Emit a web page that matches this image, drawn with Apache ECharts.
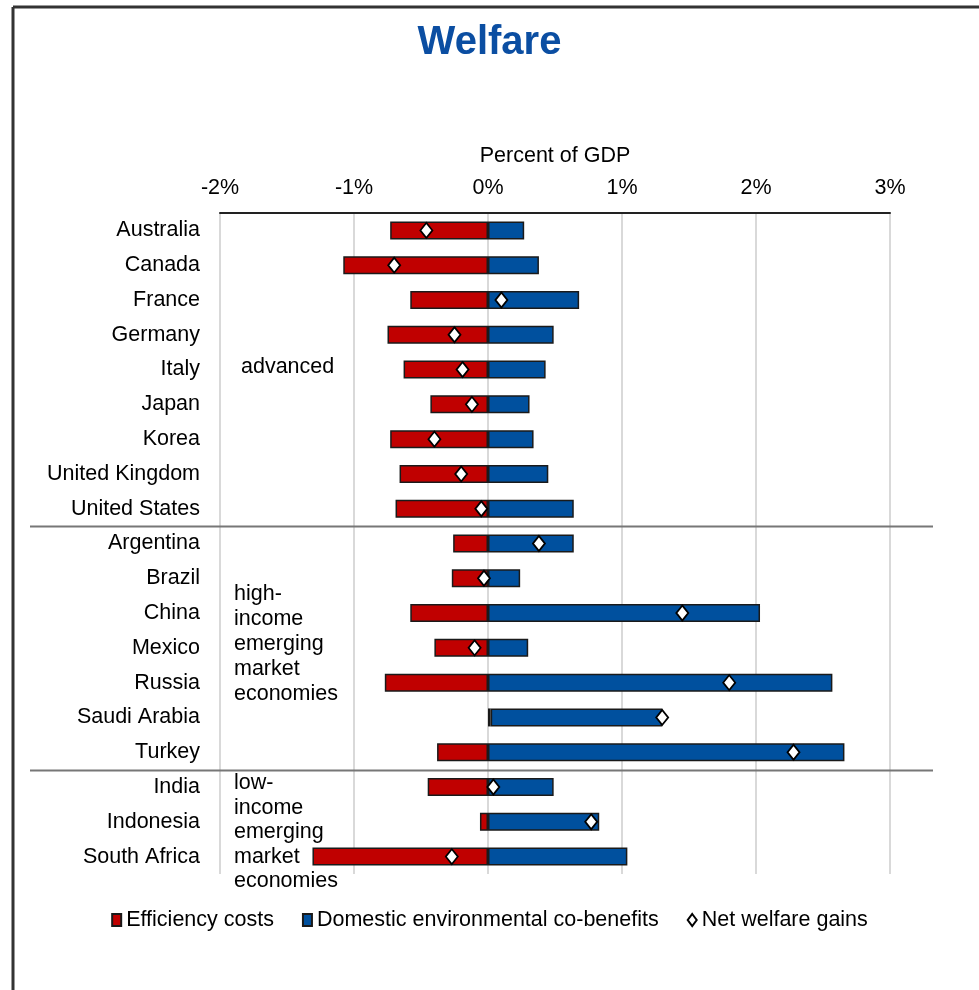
<!DOCTYPE html>
<html>
<head>
<meta charset="utf-8">
<title>Welfare</title>
<script src="https://cdn.jsdelivr.net/npm/echarts@6/dist/echarts.min.js"></script>
<style>
  html, body { margin: 0; padding: 0; background: #ffffff; }
  #chart { width: 979px; height: 990px; }
</style>
</head>
<body>
<div id="chart"></div>
<script>
// Countries, top to bottom
const countries = [
  'Australia', 'Canada', 'France', 'Germany', 'Italy', 'Japan', 'Korea',
  'United Kingdom', 'United States',
  'Argentina', 'Brazil', 'China', 'Mexico', 'Russia', 'Saudi Arabia', 'Turkey',
  'India', 'Indonesia', 'South Africa'
];

// Percent of GDP
const efficiencyCosts = [
  -0.73, -1.08, -0.58, -0.75, -0.63, -0.43, -0.73, -0.66, -0.69,
  -0.26, -0.27, -0.58, -0.40, -0.77, 0.02, -0.38,
  -0.45, -0.06, -1.31
];
const coBenefits = [
  0.27, 0.38, 0.68, 0.49, 0.43, 0.31, 0.34, 0.45, 0.64,
  0.64, 0.24, 2.03, 0.30, 2.57, 1.28, 2.66,
  0.49, 0.83, 1.04
];
const netGains = [
  -0.46, -0.70, 0.10, -0.25, -0.19, -0.12, -0.40, -0.20, -0.05,
  0.38, -0.03, 1.45, -0.10, 1.80, 1.30, 2.28,
  0.04, 0.77, -0.27
];

const xTicks = { min: -2, max: 3, step: 1 };

// Country groups: label lines, first and last member
const groups = [
  { lines: ['advanced'], first: 'Australia', last: 'United States' },
  { lines: ['high-', 'income', 'emerging', 'market', 'economies'], first: 'Argentina', last: 'Turkey' },
  { lines: ['low-', 'income', 'emerging', 'market', 'economies'], first: 'India', last: 'South Africa' }
];

const FONT = 'Liberation Sans, Arial, sans-serif';
const FS = 21.5;
const RED = '#C00000';
const BLUE = '#00509E';
const EDGE = '#1a1a1a';

const chart = echarts.init(document.getElementById('chart'), null, { renderer: 'canvas' });

chart.setOption({
  backgroundColor: '#ffffff',
  animation: false,
  title: {
    text: 'Welfare',
    left: 'center',
    top: 18,
    textStyle: { fontFamily: FONT, fontSize: 40, fontWeight: 'bold', color: '#0B4EA2' }
  },
  legend: {
    bottom: 54,
    left: 'center',
    icon: 'rect',
    itemWidth: 9,
    itemHeight: 12,
    itemGap: 28,
    textStyle: { fontFamily: FONT, fontSize: FS, color: '#000' },
    data: [
      { name: 'Efficiency costs', icon: 'rect' },
      { name: 'Domestic environmental co-benefits', icon: 'rect' },
      { name: 'Net welfare gains', icon: 'diamond' }
    ]
  },
  grid: { left: 220, right: 89, top: 213, height: 661, containLabel: false },
  xAxis: {
    type: 'value',
    position: 'top',
    min: xTicks.min,
    max: xTicks.max,
    interval: xTicks.step,
    name: 'Percent of GDP',
    nameLocation: 'middle',
    nameGap: 46,
    nameTextStyle: { fontFamily: FONT, fontSize: FS, color: '#000' },
    axisLine: { show: true, onZero: false, lineStyle: { color: '#222', width: 2 } },
    axisTick: { show: false },
    axisLabel: {
      margin: 14,
      fontFamily: FONT, fontSize: FS, color: '#000',
      formatter: v => v + '%'
    },
    splitLine: { show: true, lineStyle: { color: '#d9d9d9', width: 2 } }
  },
  yAxis: {
    type: 'category',
    data: countries,
    inverse: true,
    axisLine: { show: false },
    axisTick: { show: false },
    axisLabel: { margin: 20, fontFamily: FONT, fontSize: FS, color: '#000' },
    splitLine: { show: false }
  },
  series: [
    {
      name: 'Efficiency costs',
      type: 'bar',
      stack: 'welfare',
      barWidth: 18,
      data: efficiencyCosts,
      itemStyle: { color: RED, borderColor: EDGE, borderWidth: 1.5 }
    },
    {
      name: 'Domestic environmental co-benefits',
      type: 'bar',
      stack: 'welfare',
      barWidth: 18,
      data: coBenefits,
      itemStyle: { color: BLUE, borderColor: EDGE, borderWidth: 1.5 }
    },
    {
      name: 'Net welfare gains',
      type: 'scatter',
      symbol: 'diamond',
      symbolSize: [12, 15],
      data: netGains,
      z: 5,
      itemStyle: { color: '#ffffff', opacity: 1, borderColor: '#000', borderWidth: 1.8 }
    }
  ]
});

// Frame, group separators and group names placed from the axis scale
function decorate() {
  const rowY = name => chart.convertToPixel({ yAxisIndex: 0 }, name);
  const band = rowY(countries[1]) - rowY(countries[0]);
  const elements = [
    { type: 'line', shape: { x1: 13, y1: 7, x2: 979, y2: 7 }, style: { stroke: '#333', lineWidth: 3 } },
    { type: 'line', shape: { x1: 13, y1: 7, x2: 13, y2: 990 }, style: { stroke: '#333', lineWidth: 3 } }
  ];
  groups.forEach((g, i) => {
    if (i > 0) {
      const y = Math.round(rowY(g.first) - band / 2) + 0.5;
      elements.push({
        type: 'line',
        shape: { x1: 30, y1: y, x2: 933, y2: y },
        style: { stroke: '#777', lineWidth: 2 }
      });
    }
  });
  // advanced: single line centred on its block
  const a = groups[0];
  elements.push({
    type: 'text', x: 241, y: (rowY(a.first) + rowY(a.last)) / 2 - 2,
    style: { text: a.lines.join('\n'), fontFamily: FONT, fontSize: FS, fill: '#000', verticalAlign: 'middle' }
  });
  // high-income: starts just above China
  const h = groups[1];
  elements.push({
    type: 'text', x: 234, y: rowY('China') - 32,
    style: { text: h.lines.join('\n'), fontFamily: FONT, fontSize: FS, lineHeight: 25, fill: '#000' }
  });
  // low-income: starts at top of India row
  const l = groups[2];
  elements.push({
    type: 'text', x: 234, y: rowY(l.first) - 16,
    style: { text: l.lines.join('\n'), fontFamily: FONT, fontSize: FS, lineHeight: 24.5, fill: '#000' }
  });
  chart.setOption({ graphic: { elements } });
}
decorate();
</script>
</body>
</html>
